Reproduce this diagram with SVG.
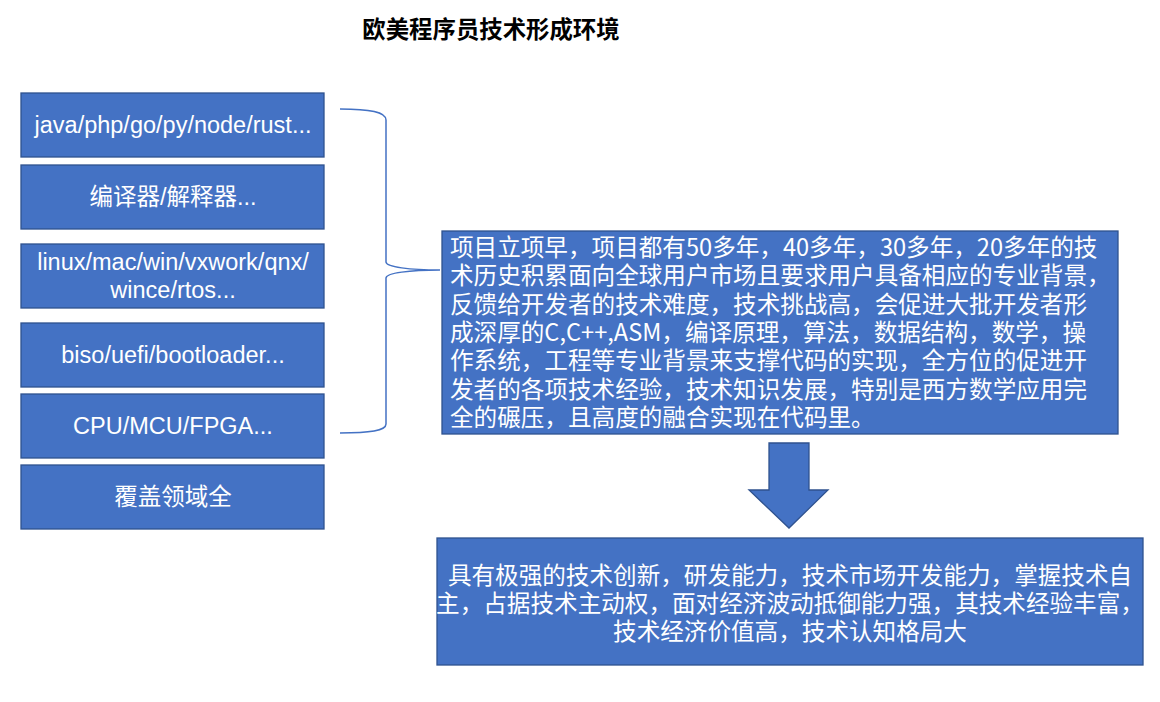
<svg xmlns="http://www.w3.org/2000/svg" width="1160" height="702" viewBox="0 0 1160 702">
<style>
.box{fill:#4472C4;stroke:#2F528F;stroke-width:1.3}
.t{fill:#fff;font-family:"Liberation Sans","Noto Sans CJK SC",sans-serif;font-size:23.5px}
.c{text-anchor:middle}
.cj{fill:#fff;font-family:"Noto Sans CJK SC","Liberation Sans",sans-serif;font-size:23.6px}
.title{fill:#000;font-family:"Noto Sans CJK SC",sans-serif;font-size:23.4px;font-weight:bold;text-anchor:middle}
.brace{fill:none;stroke:#4472C4;stroke-width:1.5}
</style>
<rect width="1160" height="702" fill="#fff"/>
<text class="title" x="491" y="38">欧美程序员技术形成环境</text>
<g id="n1"><rect class="box" x="21" y="93" width="303" height="64"/><text class="t c" x="173" y="133">java/php/go/py/node/rust...</text></g>
<g id="n2"><rect class="box" x="21" y="165" width="303" height="64"/><text class="t c" x="173" y="205">编译器/解释器...</text></g>
<g id="n3"><rect class="box" x="21" y="244" width="303" height="64"/><text class="t c" x="173" y="270">linux/mac/win/vxwork/qnx/</text><text class="t c" x="173" y="298">wince/rtos...</text></g>
<g id="n4"><rect class="box" x="21" y="323" width="303" height="64"/><text class="t c" x="173" y="363">biso/uefi/bootloader...</text></g>
<g id="n5"><rect class="box" x="21" y="394" width="303" height="64"/><text class="t c" x="173" y="434">CPU/MCU/FPGA...</text></g>
<g id="n6"><rect class="box" x="21" y="465" width="303" height="64"/><text class="t c" x="173" y="505">覆盖领域全</text></g>
<g id="connectors">
<path class="brace" d="M340,109 C370,109 386,112 386,120 L386,262 C386,267 410,270 440,270 C410,270 386,273 386,278 L386,424 C386,431 370,433 340,433"/>
<path d="M769,443 H809 V490 H828 L789,528 L749,490 H769 Z" fill="#4472C4" stroke="#2F528F" stroke-width="1.3"/>
</g>
<g id="n7"><rect class="box" x="442" y="231" width="676" height="203"/>
<text class="cj" x="450" y="256">项目立项早，项目都有50多年，40多年，30多年，20多年的技</text>
<text class="cj" x="450" y="284">术历史积累面向全球用户市场且要求用户具备相应的专业背景，</text>
<text class="cj" x="450" y="313">反馈给开发者的技术难度，技术挑战高，会促进大批开发者形</text>
<text class="cj" x="450" y="341">成深厚的C,C++,ASM，编译原理，算法，数据结构，数学，操</text>
<text class="cj" x="450" y="369">作系统，工程等专业背景来支撑代码的实现，全方位的促进开</text>
<text class="cj" x="450" y="398">发者的各项技术经验，技术知识发展，特别是西方数学应用完</text>
<text class="cj" x="450" y="426">全的碾压，且高度的融合实现在代码里。</text>
</g>
<g id="n8"><rect class="box" x="437" y="538" width="706" height="127"/>
<text class="cj c" x="790" y="584"> 具有极强的技术创新，研发能力，技术市场开发能力，掌握技术自</text>
<text class="cj c" x="790" y="612">主，占据技术主动权，面对经济波动抵御能力强，其技术经验丰富，</text>
<text class="cj c" x="790" y="640">技术经济价值高，技术认知格局大</text>
</g>
</svg>
